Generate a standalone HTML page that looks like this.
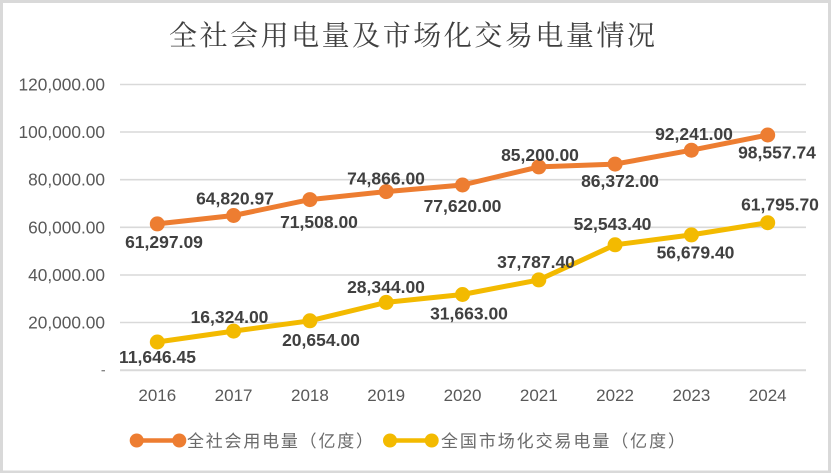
<!DOCTYPE html>
<html>
<head>
<meta charset="utf-8">
<style>
  html,body{margin:0;padding:0;background:#fff;}
  svg{display:block;}
  .yl{font-family:"Liberation Sans",sans-serif;font-size:17.3px;fill:#595959;}
  .xl{font-family:"Liberation Sans",sans-serif;font-size:17px;fill:#595959;}
  .dl{font-family:"Liberation Sans",sans-serif;font-size:17.5px;font-weight:bold;fill:#404040;}
  .tt{font-family:"Liberation Serif","Noto Serif CJK SC",serif;font-size:28px;fill:#404040;}
  .lg{font-family:"Liberation Sans","Noto Sans CJK SC",sans-serif;font-size:17px;fill:#6a6a6a;}
</style>
</head>
<body>
<svg width="831" height="473" viewBox="0 0 831 473" xmlns="http://www.w3.org/2000/svg">
  <rect x="0" y="0" width="831" height="473" fill="#fff"/>
  <rect x="1.5" y="1.5" width="828" height="470.5" fill="none" stroke="#d9d9d9" stroke-width="3"/>

  <!-- title -->
  <text class="tt" x="169" y="45" textLength="486" lengthAdjust="spacing">全社会用电量及市场化交易电量情况</text>

  <!-- gridlines -->
  <g stroke="#d9d9d9" stroke-width="1.6">
    <line x1="120" y1="84.5" x2="806" y2="84.5"/>
    <line x1="120" y1="132" x2="806" y2="132"/>
    <line x1="120" y1="179.7" x2="806" y2="179.7"/>
    <line x1="120" y1="227.3" x2="806" y2="227.3"/>
    <line x1="120" y1="275" x2="806" y2="275"/>
    <line x1="120" y1="322.5" x2="806" y2="322.5"/>
    <line x1="120" y1="370.2" x2="806" y2="370.2" stroke-width="2"/>
  </g>

  <!-- y labels -->
  <g class="yl" text-anchor="end">
    <text x="105" y="90.5">120,000.00</text>
    <text x="105" y="138">100,000.00</text>
    <text x="105" y="185.7">80,000.00</text>
    <text x="105" y="233.3">60,000.00</text>
    <text x="105" y="281">40,000.00</text>
    <text x="105" y="328.5">20,000.00</text>
  </g>
  <line x1="101.5" y1="370.7" x2="105" y2="370.7" stroke="#7f7f7f" stroke-width="1.3"/>

  <!-- x labels -->
  <g class="xl" text-anchor="middle">
    <text x="157.3" y="401">2016</text>
    <text x="233.6" y="401">2017</text>
    <text x="309.9" y="401">2018</text>
    <text x="386.2" y="401">2019</text>
    <text x="462.5" y="401">2020</text>
    <text x="538.8" y="401">2021</text>
    <text x="615.1" y="401">2022</text>
    <text x="691.4" y="401">2023</text>
    <text x="767.7" y="401">2024</text>
  </g>

  <!-- orange series -->
  <polyline fill="none" stroke="#ED7D31" stroke-width="5" stroke-linejoin="round" stroke-linecap="round"
    points="157.3,223.9 233.6,215.5 309.9,199.6 386.2,191.6 462.5,185 538.8,166.9 615.1,164.1 691.4,150.2 767.7,135"/>
  <g fill="#ED7D31">
    <circle cx="157.3" cy="223.9" r="7.5"/>
    <circle cx="233.6" cy="215.5" r="7.5"/>
    <circle cx="309.9" cy="199.6" r="7.5"/>
    <circle cx="386.2" cy="191.6" r="7.5"/>
    <circle cx="462.5" cy="185" r="7.5"/>
    <circle cx="538.8" cy="166.9" r="7.5"/>
    <circle cx="615.1" cy="164.1" r="7.5"/>
    <circle cx="691.4" cy="150.2" r="7.5"/>
    <circle cx="767.7" cy="135" r="7.5"/>
  </g>

  <!-- yellow series -->
  <polyline fill="none" stroke="#F3BA00" stroke-width="5" stroke-linejoin="round" stroke-linecap="round"
    points="157.3,342 233.6,331.1 309.9,320.8 386.2,302.4 462.5,294.5 538.8,279.9 615.1,244.8 691.4,234.9 767.7,222.7"/>
  <g fill="#F3BA00">
    <circle cx="157.3" cy="342" r="7.5"/>
    <circle cx="233.6" cy="331.1" r="7.5"/>
    <circle cx="309.9" cy="320.8" r="7.5"/>
    <circle cx="386.2" cy="302.4" r="7.5"/>
    <circle cx="462.5" cy="294.5" r="7.5"/>
    <circle cx="538.8" cy="279.9" r="7.5"/>
    <circle cx="615.1" cy="244.8" r="7.5"/>
    <circle cx="691.4" cy="234.9" r="7.5"/>
    <circle cx="767.7" cy="222.7" r="7.5"/>
  </g>

  <!-- data labels -->
  <g class="dl" text-anchor="middle">
    <text x="164" y="248">61,297.09</text>
    <text x="235" y="204.5">64,820.97</text>
    <text x="319" y="228">71,508.00</text>
    <text x="386" y="184.5">74,866.00</text>
    <text x="462.5" y="212">77,620.00</text>
    <text x="540" y="161">85,200.00</text>
    <text x="620" y="187">86,372.00</text>
    <text x="694" y="140">92,241.00</text>
    <text x="777" y="158.5">98,557.74</text>

    <text x="157.5" y="363">11,646.45</text>
    <text x="229.5" y="323">16,324.00</text>
    <text x="321" y="346">20,654.00</text>
    <text x="386" y="293">28,344.00</text>
    <text x="469" y="319.5">31,663.00</text>
    <text x="536" y="268">37,787.40</text>
    <text x="612.5" y="230">52,543.40</text>
    <text x="695.5" y="258.5">56,679.40</text>
    <text x="780" y="210.5">61,795.70</text>
  </g>

  <!-- legend -->
  <line x1="136.7" y1="440.5" x2="179.3" y2="440.5" stroke="#ED7D31" stroke-width="4.5"/>
  <circle cx="136.7" cy="440.5" r="7" fill="#ED7D31"/>
  <circle cx="179.3" cy="440.5" r="7" fill="#ED7D31"/>
  <text class="lg" x="187" y="447" textLength="186" lengthAdjust="spacing">全社会用电量（亿度）</text>

  <line x1="390" y1="440.5" x2="431.7" y2="440.5" stroke="#F3BA00" stroke-width="4.5"/>
  <circle cx="390" cy="440.5" r="7" fill="#F3BA00"/>
  <circle cx="431.7" cy="440.5" r="7" fill="#F3BA00"/>
  <text class="lg" x="441" y="447" textLength="244" lengthAdjust="spacing">全国市场化交易电量（亿度）</text>
</svg>
</body>
</html>
